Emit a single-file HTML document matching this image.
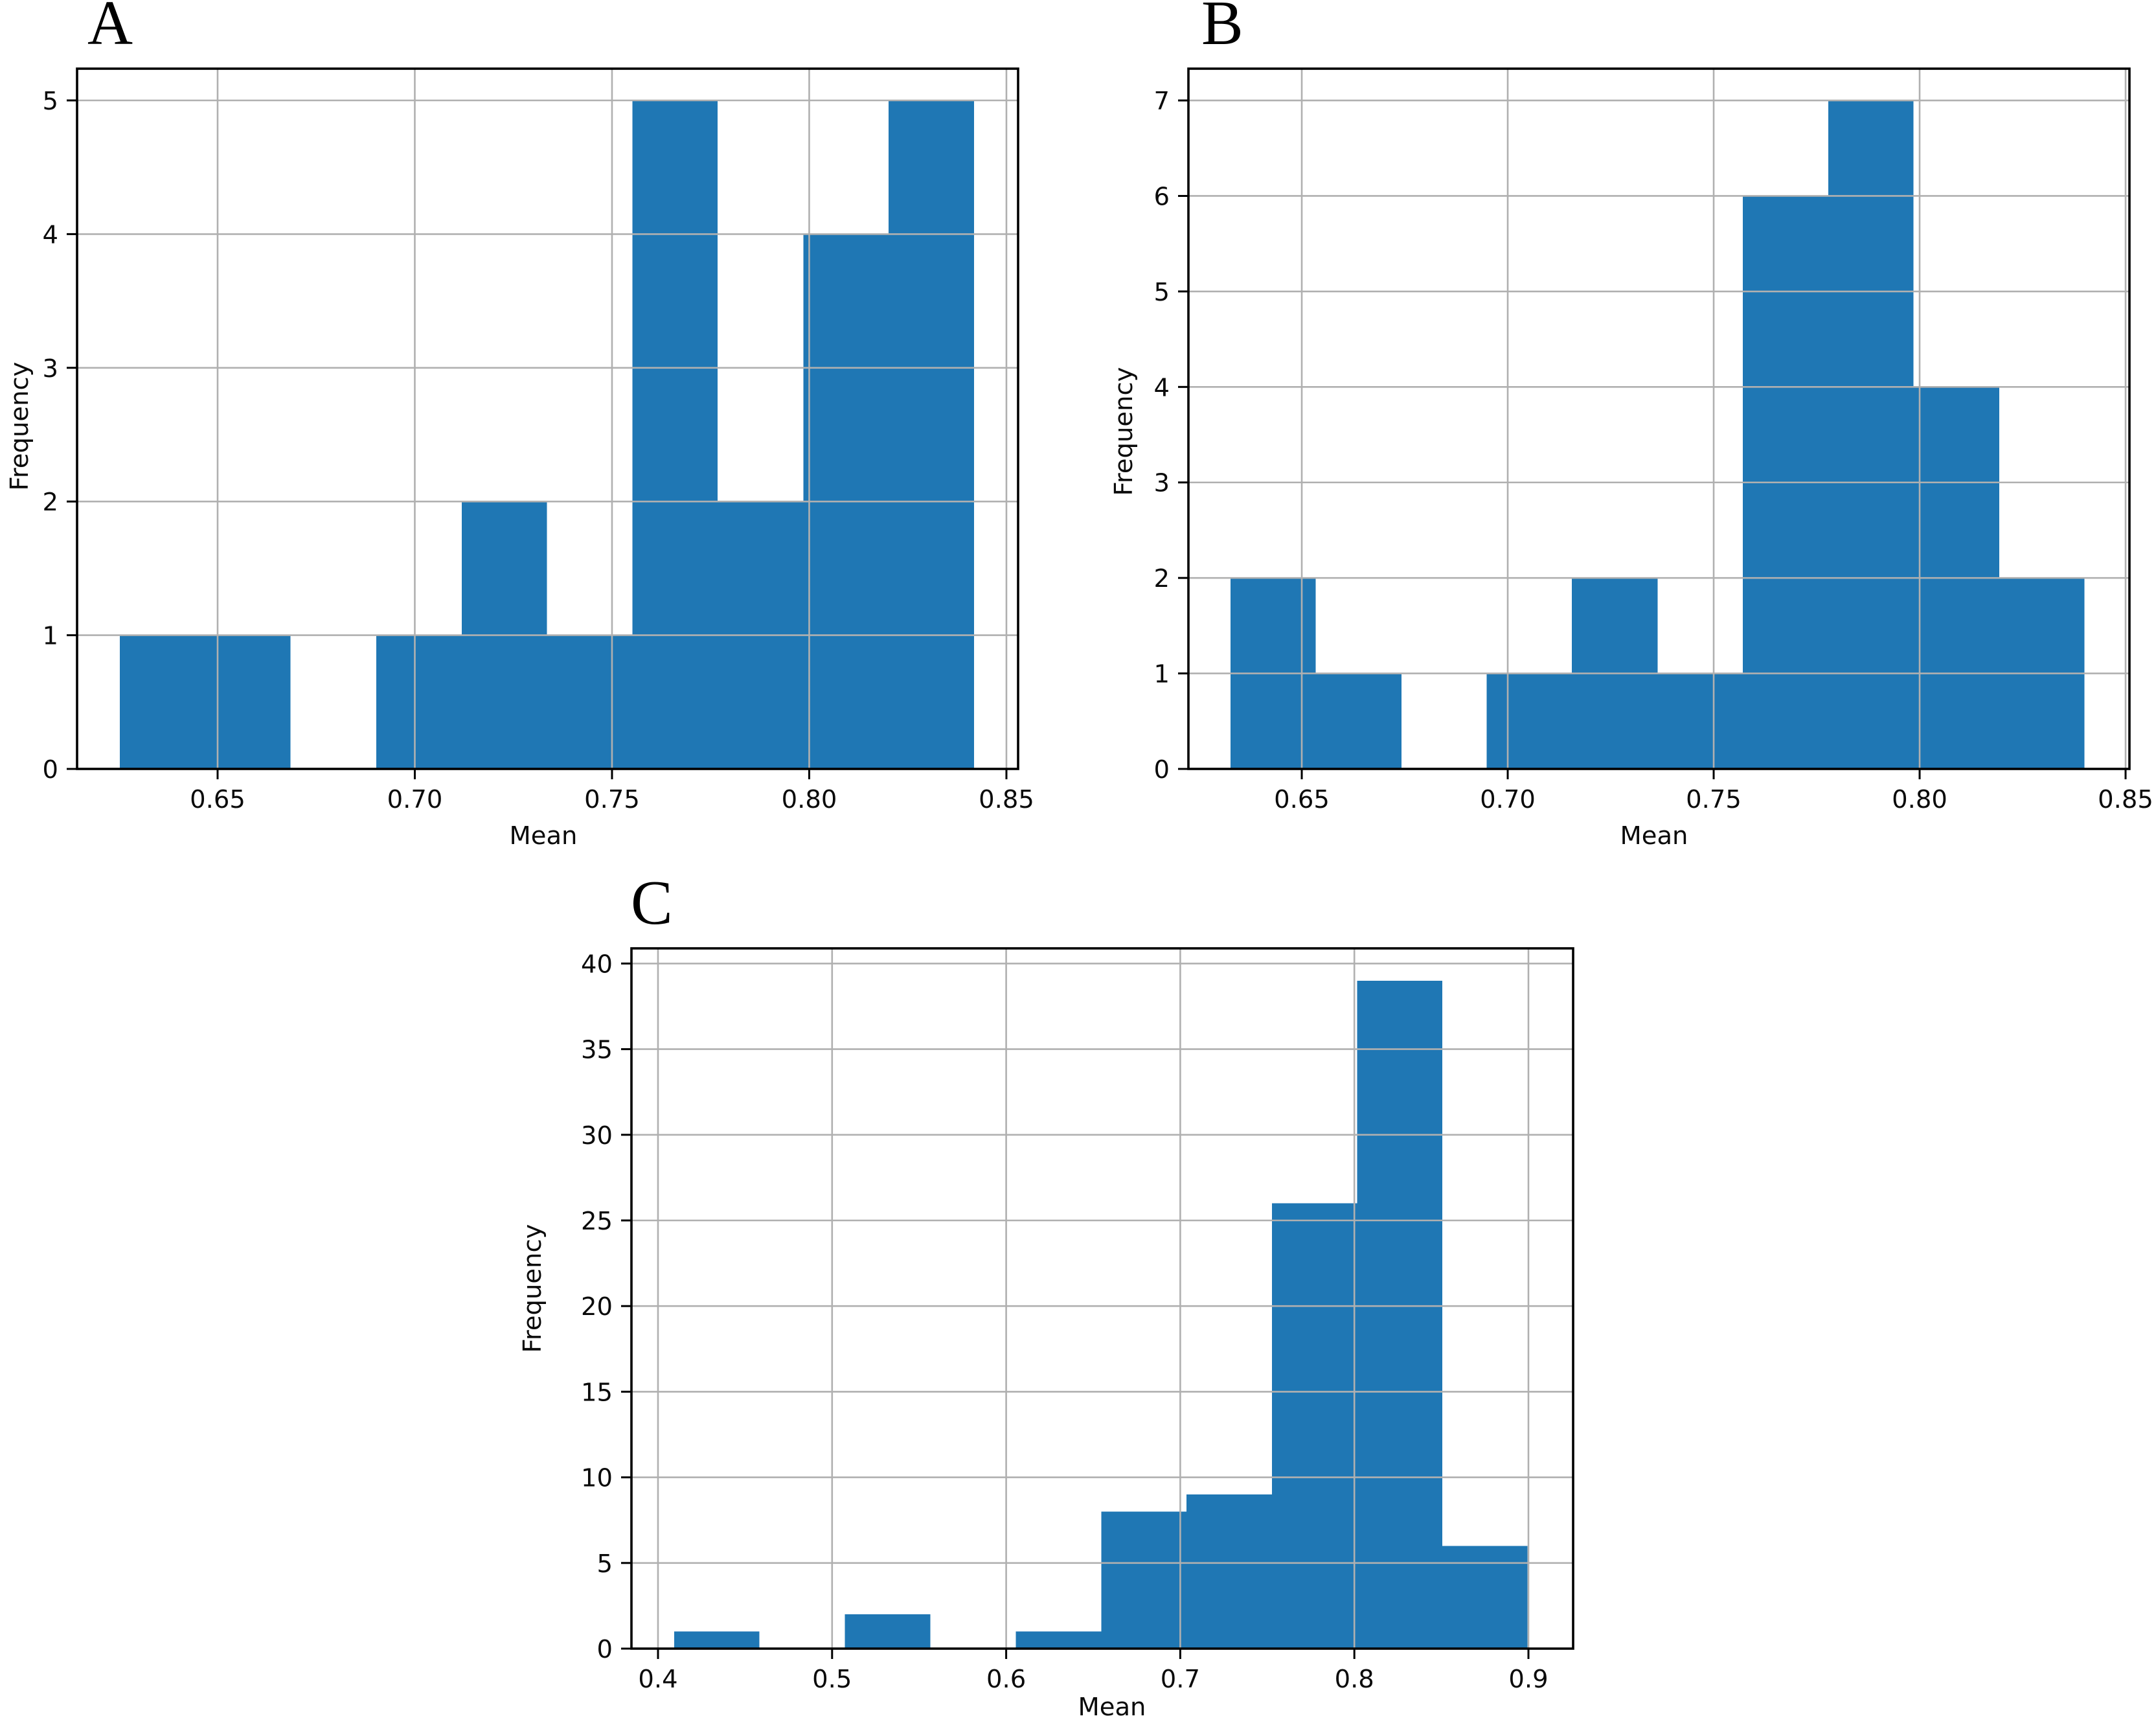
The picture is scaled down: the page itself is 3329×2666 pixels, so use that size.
<!DOCTYPE html>
<html lang="en">
<head>
<meta charset="utf-8">
<title>Histograms of Mean Frequency (A, B, C)</title>
<style>
  html, body { margin: 0; padding: 0; background: #fff; }
  body { width: 3329px; height: 2666px; overflow: hidden; }
  svg { display: block; }
  .tick-text { font-family: "DejaVu Sans", sans-serif; font-size: 38.5px; fill: #0a0a0a; }
  .panel-letter { font-family: "Liberation Serif", serif; font-size: 97px; fill: #000; }
</style>
</head>
<body>
<svg id="figure" xmlns="http://www.w3.org/2000/svg" width="3329" height="2666" viewBox="0 0 3329 2666">
  <rect x="0" y="0" width="3329" height="2666" fill="#ffffff"></rect>
</svg>
<script>
// Panel A data
const aCounts = [1, 1, 0, 1, 2, 1, 5, 2, 4, 5];
const aEdges = [0.6252, 0.6469, 0.6685, 0.6902, 0.7119, 0.7335, 0.7552, 0.7768, 0.7985, 0.8201, 0.8418];
const aXTickLabels = ['0.65', '0.70', '0.75', '0.80', '0.85'];
const aYTickLabels = ['0', '1', '2', '3', '4', '5'];

// Panel B data
const bCounts = [2, 1, 0, 1, 2, 1, 6, 7, 4, 2];
const bEdges = [0.6327, 0.6534, 0.6742, 0.6949, 0.7156, 0.7364, 0.7571, 0.7778, 0.7985, 0.8193, 0.84];
const bXTickLabels = ['0.65', '0.70', '0.75', '0.80', '0.85'];
const bYTickLabels = ['0', '1', '2', '3', '4', '5', '6', '7'];

// Panel C data
const cCounts = [1, 0, 2, 0, 1, 8, 9, 26, 39, 6];
const cEdges = [0.4093, 0.4583, 0.5073, 0.5564, 0.6056, 0.6546, 0.7036, 0.7526, 0.8016, 0.8506, 0.8994];
const cXTickLabels = ['0.4', '0.5', '0.6', '0.7', '0.8', '0.9'];
const cYTickLabels = ['0', '5', '10', '15', '20', '25', '30', '35', '40'];

const SVG_NS = 'http://www.w3.org/2000/svg';
const figure = document.getElementById('figure');
const BAR_COLOR = '#1f77b4';
const GRID_COLOR = '#b0b0b0';
const AXIS_COLOR = '#000000';

function makeLine(parent, x1, y1, x2, y2, color, width) {
  const line = document.createElementNS(SVG_NS, 'line');
  line.setAttribute('x1', x1);
  line.setAttribute('y1', y1);
  line.setAttribute('x2', x2);
  line.setAttribute('y2', y2);
  line.setAttribute('stroke', color);
  line.setAttribute('stroke-width', width);
  parent.appendChild(line);
  return line;
}

function makeText(parent, x, y, anchor, content, cssClass) {
  const text = document.createElementNS(SVG_NS, 'text');
  text.setAttribute('x', x);
  text.setAttribute('y', y);
  text.setAttribute('text-anchor', anchor);
  text.setAttribute('class', cssClass);
  text.textContent = content;
  parent.appendChild(text);
  return text;
}

function drawPanel(p) {
  const scaleX = function (v) {
    return p.left + (v - p.xMin) / (p.xMax - p.xMin) * (p.right - p.left);
  };
  const scaleY = function (v) {
    return p.bottom - v / p.yMax * (p.bottom - p.top);
  };

  const group = document.createElementNS(SVG_NS, 'g');
  
  
  figure.appendChild(group);

  // Bars
  p.counts.forEach(function (count, i) {
    const x0 = scaleX(p.edges[i]);
    const x1 = scaleX(p.edges[i + 1]);
    const yTop = scaleY(count);
    const bar = document.createElementNS(SVG_NS, 'rect');
    bar.setAttribute('x', x0);
    bar.setAttribute('y', yTop);
    bar.setAttribute('width', x1 - x0);
    bar.setAttribute('height', p.bottom - yTop);
    bar.setAttribute('fill', BAR_COLOR);
    bar.setAttribute('shape-rendering', 'crispEdges');
    
    
    group.appendChild(bar);
  });

  // Grid lines
  p.xTicks.forEach(function (label) {
    const x = scaleX(Number(label));
    const grid = makeLine(group, x, p.top, x, p.bottom, GRID_COLOR, 2.6);
    
    
  });
  p.yTicks.forEach(function (label) {
    const y = scaleY(Number(label));
    const grid = makeLine(group, p.left, y, p.right, y, GRID_COLOR, 2.6);
    
    
  });

  // Plot frame
  const frame = document.createElementNS(SVG_NS, 'rect');
  frame.setAttribute('x', p.left);
  frame.setAttribute('y', p.top);
  frame.setAttribute('width', p.right - p.left);
  frame.setAttribute('height', p.bottom - p.top);
  frame.setAttribute('fill', 'none');
  frame.setAttribute('stroke', AXIS_COLOR);
  frame.setAttribute('stroke-width', 3.6);
  
  
  group.appendChild(frame);

  // X axis ticks and labels
  p.xTicks.forEach(function (label) {
    const x = scaleX(Number(label));
    const tick = makeLine(group, x, p.bottom, x, p.bottom + 16, AXIS_COLOR, 3);
    
    
    const text = makeText(group, x, p.bottom + 60, 'middle', label, 'tick-text');
    
    
  });

  // Y axis ticks and labels
  p.yTicks.forEach(function (label) {
    const y = scaleY(Number(label));
    const tick = makeLine(group, p.left - 16, y, p.left, y, AXIS_COLOR, 3);
    
    
    const text = makeText(group, p.left - 29, y + 14, 'end', label, 'tick-text');
    
    
  });

  // Axis titles
  const xTitle = makeText(group, p.xTitleX, p.xTitleY, 'middle', 'Mean', 'tick-text');
  
  

  const yTitle = makeText(group, 0, 0, 'middle', 'Frequency', 'tick-text');
  yTitle.setAttribute('transform', 'translate(' + p.yTitleX + ' ' + p.yTitleY + ') rotate(-90)');
  
  

  // Panel letter
  const letter = makeText(group, p.letterX, p.letterY, 'start', p.letter, 'panel-letter');
  
  
}

drawPanel({
  id: 'a', letter: 'A', letterX: 135, letterY: 68,
  left: 119, right: 1572, top: 106, bottom: 1187,
  xMin: 0.61437, xMax: 0.85296, yMax: 5.2374,
  counts: aCounts, edges: aEdges, xTicks: aXTickLabels, yTicks: aYTickLabels,
  xTitleX: 839, xTitleY: 1303, yTitleX: 43, yTitleY: 658
});

drawPanel({
  id: 'b', letter: 'B', letterX: 1855, letterY: 68,
  left: 1835, right: 3288, top: 106, bottom: 1187,
  xMin: 0.62248, xMax: 0.85094, yMax: 7.3328,
  counts: bCounts, edges: bEdges, xTicks: bXTickLabels, yTicks: bYTickLabels,
  xTitleX: 2554, xTitleY: 1303, yTitleX: 1748, yTitleY: 666
});

drawPanel({
  id: 'c', letter: 'C', letterX: 974, letterY: 1426,
  left: 975, right: 2429, top: 1464, bottom: 2545,
  xMin: 0.38475, xMax: 0.92567, yMax: 40.885,
  counts: cCounts, edges: cEdges, xTicks: cXTickLabels, yTicks: cYTickLabels,
  xTitleX: 1717, xTitleY: 2648, yTitleX: 835, yTitleY: 1989
});
</script>
</body>
</html>
